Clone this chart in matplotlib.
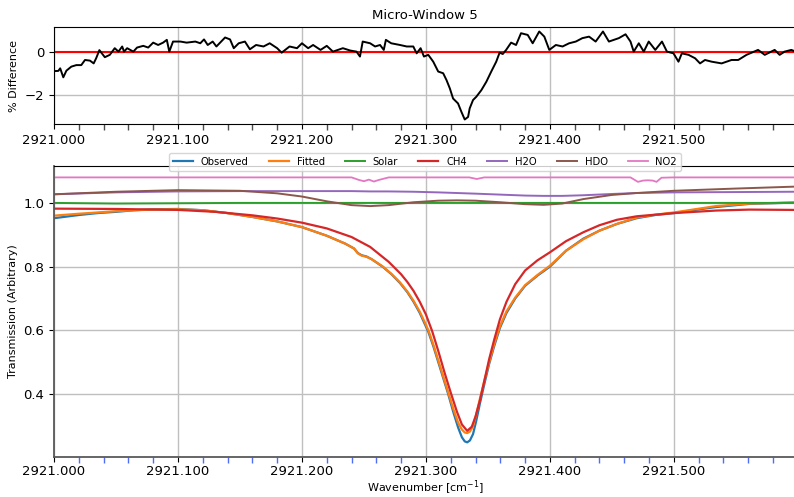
import numpy as np
import matplotlib
matplotlib.use("Agg")
import matplotlib.pyplot as plt
from matplotlib.ticker import MultipleLocator, FormatStrFormatter

BASE = 2921.0

# ---- top panel: % difference (observed vs fitted), x as offset from 2921
diff_x = [0.000, 0.0035, 0.005, 0.0075, 0.010, 0.014, 0.018, 0.022, 0.025, 0.029,
          0.032, 0.034, 0.0366, 0.041, 0.045, 0.049, 0.052, 0.055, 0.0565, 0.059,
          0.064, 0.067, 0.072, 0.076, 0.080, 0.084, 0.088, 0.091, 0.093, 0.096,
          0.102, 0.107, 0.114, 0.118, 0.121, 0.124, 0.128, 0.131, 0.134, 0.138,
          0.142, 0.145, 0.149, 0.154, 0.158, 0.163, 0.169, 0.174, 0.180, 0.1836,
          0.190, 0.196, 0.200, 0.205, 0.209, 0.215, 0.220, 0.225, 0.233, 0.239,
          0.244, 0.2468, 0.249, 0.255, 0.259, 0.263, 0.266, 0.2677, 0.272, 0.2791,
          0.2845, 0.2898, 0.2925, 0.2957, 0.2984, 0.3019, 0.3059, 0.3099, 0.3139, 0.3166,
          0.3193, 0.3219, 0.3259, 0.3286, 0.3313, 0.334, 0.3353, 0.338, 0.3406, 0.3447,
          0.3487, 0.3527, 0.3567, 0.3594, 0.362, 0.3647, 0.3687, 0.3727, 0.3767, 0.3821,
          0.3861, 0.3914, 0.3955, 0.3995, 0.4048, 0.4102, 0.4155, 0.4209, 0.4262, 0.4316,
          0.4369, 0.4428, 0.4476, 0.4556, 0.461, 0.465, 0.4676, 0.4717, 0.4757, 0.4797,
          0.485, 0.4904, 0.4944, 0.4997, 0.5037, 0.5064, 0.5118, 0.5171, 0.5211, 0.5251,
          0.5305, 0.5385, 0.5465, 0.5519, 0.5586, 0.5679, 0.5733, 0.5813, 0.5853, 0.5893,
          0.5947, 0.5975]
diff_y = [-0.88, -0.87, -0.75, -1.17, -0.86, -0.67, -0.60, -0.60, -0.36, -0.39,
          -0.52, -0.28, 0.10, -0.23, -0.12, 0.19, 0.03, 0.27, 0.03, 0.19,
          0.03, 0.22, 0.30, 0.22, 0.45, 0.34, 0.45, 0.58, 0.03, 0.50,
          0.50, 0.45, 0.50, 0.42, 0.60, 0.34, 0.50, 0.27, 0.45, 0.69,
          0.60, 0.19, 0.42, 0.50, 0.14, 0.34, 0.27, 0.42, 0.19, -0.02,
          0.27, 0.19, 0.42, 0.19, 0.34, 0.11, 0.30, 0.03, 0.19, 0.08,
          0.03, -0.20, 0.50, 0.42, 0.27, 0.34, 0.11, 0.58, 0.42, 0.34,
          0.27, 0.27, -0.05, 0.19, -0.20, -0.12, -0.44, -0.90, -0.98, -1.30,
          -1.69, -2.16, -2.39, -2.78, -3.14, -3.02, -2.62, -2.23, -2.08, -1.77,
          -1.38, -0.90, -0.44, -0.02, -0.08, 0.11, 0.45, 0.34, 0.89, 0.81,
          0.42, 0.97, 0.73, 0.11, 0.34, 0.27, 0.42, 0.50, 0.66, 0.73,
          0.50, 0.97, 0.50, 0.66, 0.84, 0.50, 0.03, 0.42, 0.03, 0.50,
          0.11, 0.50, 0.03, -0.05, -0.44, -0.05, -0.12, -0.28, -0.52, -0.36,
          -0.44, -0.52, -0.36, -0.36, -0.12, 0.11, -0.12, 0.11, -0.12, 0.03,
          0.11, 0.05]

# ---- bottom panel: observed / fitted spectrum (offsets from 2921)
obs_x = [0.000, 0.010, 0.020, 0.035, 0.050, 0.065, 0.080, 0.100, 0.120, 0.140,
         0.160, 0.180, 0.200, 0.220, 0.235, 0.242, 0.245, 0.248, 0.252, 0.256,
         0.265, 0.272, 0.279, 0.285, 0.290, 0.295, 0.2985, 0.302, 0.306, 0.310,
         0.314, 0.318, 0.322, 0.326, 0.329, 0.3313, 0.3333, 0.3355, 0.338, 0.3405,
         0.3435, 0.347, 0.351, 0.355, 0.3597, 0.365, 0.372, 0.380, 0.390, 0.400,
         0.413, 0.427, 0.440, 0.454, 0.470, 0.485, 0.500, 0.517, 0.534, 0.561,
         0.597]
observed = [0.952, 0.957, 0.962, 0.968, 0.972, 0.977, 0.980, 0.981, 0.977, 0.968,
            0.956, 0.942, 0.924, 0.897, 0.872, 0.857, 0.843, 0.836, 0.832, 0.824,
            0.800, 0.777, 0.749, 0.720, 0.690, 0.655, 0.625, 0.595, 0.550, 0.500,
            0.450, 0.400, 0.345, 0.295, 0.265, 0.252, 0.249, 0.255, 0.275, 0.315,
            0.370, 0.430, 0.495, 0.550, 0.608, 0.655, 0.700, 0.740, 0.772, 0.800,
            0.850, 0.888, 0.913, 0.934, 0.952, 0.962, 0.968, 0.978, 0.987, 0.997,
            1.001]
fitted = [0.960, 0.963, 0.966, 0.970, 0.974, 0.977, 0.979, 0.980, 0.977, 0.968,
          0.956, 0.942, 0.924, 0.897, 0.872, 0.857, 0.842, 0.835, 0.831, 0.824,
          0.801, 0.778, 0.751, 0.722, 0.693, 0.659, 0.630, 0.600, 0.555, 0.505,
          0.455, 0.405, 0.355, 0.310, 0.289, 0.280, 0.278, 0.283, 0.300, 0.335,
          0.385, 0.440, 0.500, 0.556, 0.613, 0.660, 0.703, 0.742, 0.774, 0.803,
          0.850, 0.886, 0.913, 0.934, 0.954, 0.963, 0.970, 0.980, 0.990, 0.998,
          1.001]

# ---- CH4 only
ch4_x = [0.000, 0.050, 0.100, 0.130, 0.160, 0.180, 0.200, 0.220, 0.240, 0.255,
         0.270, 0.280, 0.285, 0.290, 0.295, 0.300, 0.305, 0.310, 0.315, 0.320,
         0.325, 0.329, 0.3333, 0.337, 0.340, 0.3435, 0.347, 0.351, 0.355, 0.3597,
         0.365, 0.372, 0.380, 0.390, 0.400, 0.413, 0.427, 0.440, 0.454, 0.470,
         0.500, 0.534, 0.561, 0.597]
ch4 = [0.982, 0.981, 0.978, 0.972, 0.961, 0.951, 0.938, 0.920, 0.893, 0.862,
       0.815, 0.776, 0.752, 0.724, 0.690, 0.650, 0.598, 0.535, 0.468, 0.405,
       0.345, 0.305, 0.285, 0.298, 0.330, 0.380, 0.440, 0.510, 0.570, 0.635,
       0.690, 0.745, 0.788, 0.820, 0.845, 0.880, 0.908, 0.930, 0.947, 0.958,
       0.968, 0.976, 0.979, 0.978]

gas_x = [0.000, 0.050, 0.100, 0.150, 0.180, 0.200, 0.220, 0.240, 0.255, 0.270,
         0.290, 0.310, 0.325, 0.340, 0.360, 0.380, 0.395, 0.410, 0.427, 0.450,
         0.470, 0.500, 0.550, 0.597]
solar = [1.000, 0.998, 0.999, 1.000, 1.000, 1.000, 1.000, 1.000, 1.000, 1.000,
         1.000, 1.000, 1.000, 1.000, 1.000, 1.000, 1.000, 1.000, 1.000, 1.000,
         1.000, 1.000, 1.000, 1.000]
h2o = [1.027, 1.033, 1.036, 1.037, 1.037, 1.037, 1.037, 1.037, 1.036, 1.036,
       1.035, 1.033, 1.031, 1.029, 1.026, 1.023, 1.022, 1.022, 1.024, 1.028,
       1.031, 1.033, 1.034, 1.035]
hdo = [1.027, 1.035, 1.040, 1.038, 1.030, 1.020, 1.005, 0.993, 0.990, 0.993,
       1.002, 1.007, 1.008, 1.007, 1.002, 0.996, 0.994, 0.998, 1.012, 1.025,
       1.031, 1.038, 1.045, 1.051]

no2_x = [0.000, 0.100, 0.200, 0.240, 0.246, 0.250, 0.254, 0.258, 0.262, 0.270,
         0.335, 0.341, 0.347, 0.360, 0.465, 0.471, 0.475, 0.479, 0.483, 0.486,
         0.490, 0.500, 0.597]
no2 = [1.080, 1.080, 1.080, 1.080, 1.072, 1.068, 1.073, 1.067, 1.072, 1.080,
       1.080, 1.075, 1.080, 1.080, 1.080, 1.066, 1.070, 1.071, 1.070, 1.066,
       1.079, 1.080, 1.080]

legend_labels = ["Observed", "Fitted", "Solar", "CH4", "H2O", "HDO", "NO2"]

W, H = 794, 497
fig = plt.figure(figsize=(W / 100, H / 100), dpi=100)

def box(left, top, right, bottom):
    return [left / W, 1 - bottom / H, (right - left) / W, (bottom - top) / H]

ax1 = fig.add_axes(box(54, 27, 796, 124))
ax2 = fig.add_axes(box(54, 165.6, 796, 457))

xlim = (BASE, BASE + 0.5985)
grid_kw = dict(color="0.75", lw=1.0)

# top panel
ax1.plot(BASE + np.array(diff_x), diff_y, color="black", lw=1.4, zorder=3)
ax1.axhline(0, color="red", lw=1.5, zorder=2)
ax1.set_xlim(*xlim)
ax1.set_ylim(-3.35, 1.18)
ax1.set_yticks([-2, 0])
ax1.set_ylabel("% Difference", fontsize=8)
ax1.set_title("Micro-Window 5", fontsize=9.5)
ax1.grid(True, **grid_kw)

# bottom panel
series = [(obs_x, observed, "C0", 1.6), (obs_x, fitted, "C1", 1.6),
          (gas_x, solar, "C2", 1.4), (ch4_x, ch4, "C3", 1.6),
          (gas_x, h2o, "C4", 1.4), (gas_x, hdo, "C5", 1.4),
          (no2_x, no2, "C6", 1.3)]
handles = []
for xs, ys, c, lw in series:
    h, = ax2.plot(BASE + np.array(xs), ys, color=c, lw=lw)
    handles.append(h)
ax2.set_xlim(*xlim)
ax2.set_ylim(0.203, 1.117)
ax2.set_yticks([0.4, 0.6, 0.8, 1.0])
ax2.yaxis.set_major_formatter(FormatStrFormatter("%.1f"))
ax2.set_ylabel("Transmission (Arbitrary)", fontsize=8)
ax2.grid(True, **grid_kw)
for s in ["left", "bottom"]:
    ax2.spines[s].set_color("0.35")
    ax2.spines[s].set_linewidth(1.3)
ax2.legend(handles, legend_labels, ncol=7, fontsize=7.2, loc="center",
           bbox_to_anchor=(0.5, 1.013), frameon=True)

for ax, mc in [(ax1, "0.3"), (ax2, "#4f6df5")]:
    ax.set_axisbelow(True)
    ax.xaxis.set_major_locator(MultipleLocator(0.1))
    ax.xaxis.set_minor_locator(MultipleLocator(0.02))
    ax.xaxis.set_major_formatter(FormatStrFormatter("%.3f"))
    ax.tick_params(labelsize=9.5)
    ax.tick_params(axis="x", which="minor", color=mc, length=4, width=1)

ax2.tick_params(axis="x", which="major", pad=2.5)
ax2.set_xlabel("Wavenumber [cm$^{-1}$]", fontsize=8, labelpad=0)

fig.savefig("out.png", dpi=100)
